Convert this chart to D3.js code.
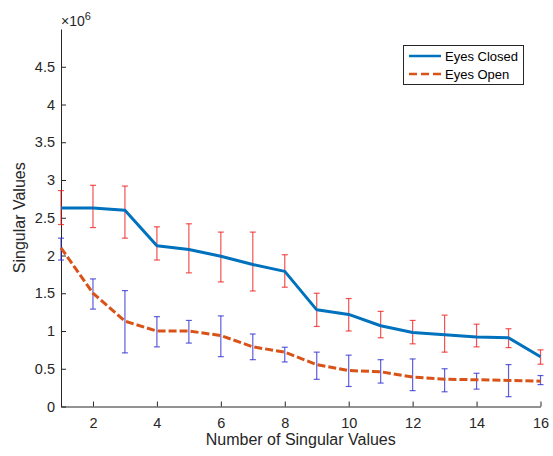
<!DOCTYPE html>
<html>
<head>
<meta charset="utf-8">
<script src="https://cdn.jsdelivr.net/npm/d3@7"></script>
<style>
  html, body { margin: 0; padding: 0; background: #fff; }
  svg { display: block; font-family: "Liberation Sans", Arial, Helvetica, sans-serif; }
</style>
</head>
<body>
<svg id="chart" width="553" height="456"></svg>
<script>
// Number of singular values (x positions)
const indices = d3.range(1, 17);

// Mean singular values, in units of 1e6
const eyesClosed = [2.63, 2.63, 2.60, 2.13, 2.08, 1.99, 1.88, 1.79, 1.28, 1.22, 1.07, 0.98, 0.95, 0.92, 0.91, 0.66];
const eyesOpen   = [2.10, 1.50, 1.13, 1.00, 1.00, 0.94, 0.79, 0.72, 0.555, 0.476, 0.46, 0.39, 0.36, 0.355, 0.345, 0.335];

// Error bar extents (upper / lower), in units of 1e6
const closedUpper = [2.86, 2.93, 2.92, 2.38, 2.42, 2.31, 2.31, 2.01, 1.50, 1.43, 1.26, 1.14, 1.21, 1.09, 1.03, 0.75];
const closedLower = [2.41, 2.37, 2.23, 1.94, 1.77, 1.65, 1.53, 1.58, 1.06, 1.00, 0.91, 0.83, 0.72, 0.79, 0.78, 0.56];
const openUpper   = [2.23, 1.69, 1.535, 1.19, 1.14, 1.20, 0.96, 0.785, 0.72, 0.68, 0.62, 0.63, 0.50, 0.44, 0.555, 0.41];
const openLower   = [1.94, 1.29, 0.71, 0.79, 0.84, 0.66, 0.62, 0.59, 0.36, 0.265, 0.31, 0.21, 0.195, 0.23, 0.13, 0.29];

const xTicks = [2, 4, 6, 8, 10, 12, 14, 16];
const yTicks = [0, 0.5, 1, 1.5, 2, 2.5, 3, 3.5, 4, 4.5];

const seriesNames = ["Eyes Closed", "Eyes Open"];

const svg = d3.select("#chart");
const ink = "#262626";

const x = d3.scaleLinear().domain([1, 16]).range([61, 540.5]);
const y = d3.scaleLinear().domain([0, 5]).range([406.5, 29]);

// Axes
const xAxis = d3.axisBottom(x).tickValues(xTicks).tickSizeInner(-5).tickSizeOuter(0).tickPadding(11)
  .tickFormat(d3.format("d"));
const yAxis = d3.axisLeft(y).tickValues(yTicks).tickSizeInner(-5).tickSizeOuter(0).tickPadding(6)
  .tickFormat(d => d3.format("")(d));

const gx = svg.append("g").attr("transform", `translate(0,${y(0)})`).call(xAxis);
const gy = svg.append("g").attr("transform", `translate(${x(1)},0)`).call(yAxis);
[gx, gy].forEach(g => {
  g.select(".domain").attr("stroke", ink).attr("stroke-width", 1);
  g.selectAll(".tick line").attr("stroke", ink);
  g.selectAll(".tick text").attr("fill", ink).attr("font-size", 14.5)
    .attr("font-family", "Liberation Sans, Arial, sans-serif");
});
gx.selectAll(".tick text").attr("dy", "0.71em");

// Exponent label
const expo = svg.append("text").attr("x", 61).attr("y", 26).attr("fill", ink).attr("font-size", 14);
expo.append("tspan").text("×10").attr("fill", ink);
expo.append("tspan").text("6").attr("font-size", 11).attr("dy", -6);

// Axis titles
svg.append("text").attr("x", x(8.5)).attr("y", 445).attr("text-anchor", "middle")
  .attr("fill", ink).attr("font-size", 16).text("Number of Singular Values");
svg.append("text").attr("transform", `translate(25,${y(2.5)}) rotate(-90)`).attr("text-anchor", "middle")
  .attr("fill", ink).attr("font-size", 16).text("Singular Values");

// Error bars
function errorBars(upper, lower, color) {
  const g = svg.append("g").attr("stroke", color).attr("stroke-width", 1.2).attr("stroke-opacity", 0.75);
  indices.forEach((d, i) => {
    const cx = x(d);
    g.append("line").attr("x1", cx).attr("x2", cx).attr("y1", y(upper[i])).attr("y2", y(lower[i]));
    g.append("line").attr("x1", cx - 3).attr("x2", cx + 3).attr("y1", y(upper[i])).attr("y2", y(upper[i]));
    g.append("line").attr("x1", cx - 3).attr("x2", cx + 3).attr("y1", y(lower[i])).attr("y2", y(lower[i]));
  });
}
errorBars(closedUpper, closedLower, "#f01a1a");
errorBars(openUpper, openLower, "#2a2ad0");

// Lines
const line = d3.line().x((d, i) => x(indices[i])).y(d => y(d));
svg.append("path").datum(eyesClosed).attr("d", line).attr("fill", "none")
  .attr("stroke", "#0072BD").attr("stroke-width", 3).attr("stroke-linejoin", "round");
svg.append("path").datum(eyesOpen).attr("d", line).attr("fill", "none")
  .attr("stroke", "#D95319").attr("stroke-width", 3).attr("stroke-dasharray", "8,3");

// Legend
const lg = svg.append("g");
lg.append("rect").attr("x", 403.5).attr("y", 45.5).attr("width", 120).attr("height", 39)
  .attr("fill", "#fff").attr("stroke", ink).attr("stroke-width", 1);
const legendColors = ["#0072BD", "#D95319"];
const legendDash = [null, "8,4"];
seriesNames.forEach((name, i) => {
  const ly = 56 + i * 18;
  lg.append("line").attr("x1", 409).attr("x2", 441).attr("y1", ly).attr("y2", ly)
    .attr("stroke", legendColors[i]).attr("stroke-width", 2.5).attr("stroke-dasharray", legendDash[i]);
  lg.append("text").attr("x", 445).attr("y", ly).attr("dy", "0.35em").attr("font-size", 13)
    .attr("fill", "#000").text(name);
});
</script>
</body>
</html>
